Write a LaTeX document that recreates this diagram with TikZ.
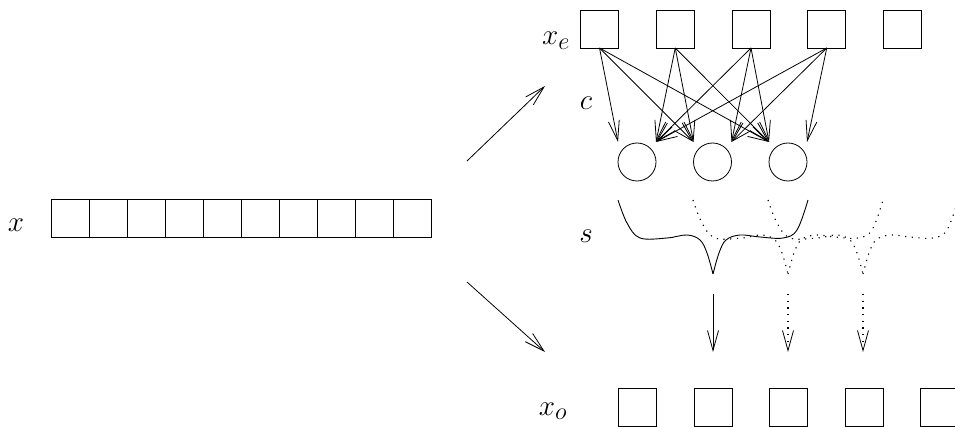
\documentclass[tikz,border=0pt]{standalone}
\usetikzlibrary{arrows.meta,calc}
\newcommand{\mylab}[1]{\scalebox{1.17}{#1}}
\begin{document}
\begin{tikzpicture}[x=1pt,y=-1pt,
  cell/.style={draw, line width=0.8pt, minimum size=38pt, inner sep=0pt, outer sep=0pt},
  unit/.style={draw, circle, minimum size=38pt, inner sep=0pt, outer sep=0pt, line width=0.8pt},
  lab/.style={font=\Huge, inner sep=0pt, anchor=base},
  arr/.style={line width=0.8pt, -{Straight Barb[length=20pt,width=11pt,line width=0.8pt]}},
  curveline/.style={line width=0.9pt},
  dotline/.style={line width=1.1pt, dash pattern=on 1.2pt off 5.5pt}]
\useasboundingbox (0,0) rectangle (955,427);
\clip (0,0) rectangle (955,427);

% input array x
\foreach \i in {0,...,9} \node[cell] (x\i) at (70+38*\i,218) {};
\node[lab] (lx) at (16,232) {\mylab{$x$}};

% encoder row x_e
\foreach \i in {1,...,5} \node[cell] (e\i) at (599.5+75.75*\i-75.75,29) {};
\node[lab] (lxe) at (556,45) {\mylab{$x_e$}};

% circles
\foreach \i in {1,2,3} \node[unit] (c\i) at (637+75.5*\i-75.5,162) {};
\node[lab] (lc) at (586,110) {\mylab{$c$}};
\foreach \i in {1,2,3} {
  \coordinate (L\i) at ($(c\i.center)+(-19,-20)$);
  \coordinate (R\i) at ($(c\i.center)+(19,-20)$);
}
\foreach \a/\b in {e1/L1,e1/L2,e1/L3,e2/R1,e2/L2,e2/L3,e3/R1,e3/R2,e3/L3,e4/R1,e4/R2,e4/R3}
  \draw[arr] (\a.south) -- (\b);

% big arrows
\coordinate (ua) at (467,161);
\coordinate (ub) at (545,86);
\coordinate (la) at (467,282);
\coordinate (lb) at (545,352);
\draw[arr] (ua) -- (ub);
\draw[arr] (la) -- (lb);

% s curves
\node[lab] (ls) at (586,243) {\mylab{$s$}};
\begin{scope}[shift={(713,0)}]
  \draw[curveline] plot[smooth,tension=0.6] coordinates {(-95,200) (-86,223) (-73,238) (-46,238) (-26,235) (-13,240) (-6,253) (0,274)};
  \draw[curveline] plot[smooth,tension=0.6] coordinates {(0,274) (6,253) (13,240) (27,235) (47,237) (70,238) (84,230) (95,200)};
\end{scope}
\foreach \dx in {788,863} {
\begin{scope}[shift={(\dx,0)}]
  \draw[dotline] plot[smooth,tension=0.6] coordinates {(-95,200) (-86,223) (-73,238) (-46,238) (-26,235) (-13,240) (-6,253) (0,274)};
  \draw[dotline] plot[smooth,tension=0.6] coordinates {(0,274) (6,253) (13,240) (27,235) (47,237) (70,238) (84,230) (95,200)};
\end{scope}
}

% output row x_o
\foreach \i in {1,...,5} \node[cell] (o\i) at (637.5+75.5*\i-75.5,407) {};
\node[lab] (lxo) at (553,415) {\mylab{$x_o$}};

% selection arrows
\coordinate (d1) at (713,294); \coordinate (f1) at (713,352);
\coordinate (d2) at (788,294); \coordinate (f2) at (788,352);
\coordinate (d3) at (863,294); \coordinate (f3) at (863,352);
\draw[arr] (d1) -- (f1);
\draw[arr,dotline] (d2) -- (f2);
\draw[arr,dotline] (d3) -- (f3);
\end{tikzpicture}
\end{document}
